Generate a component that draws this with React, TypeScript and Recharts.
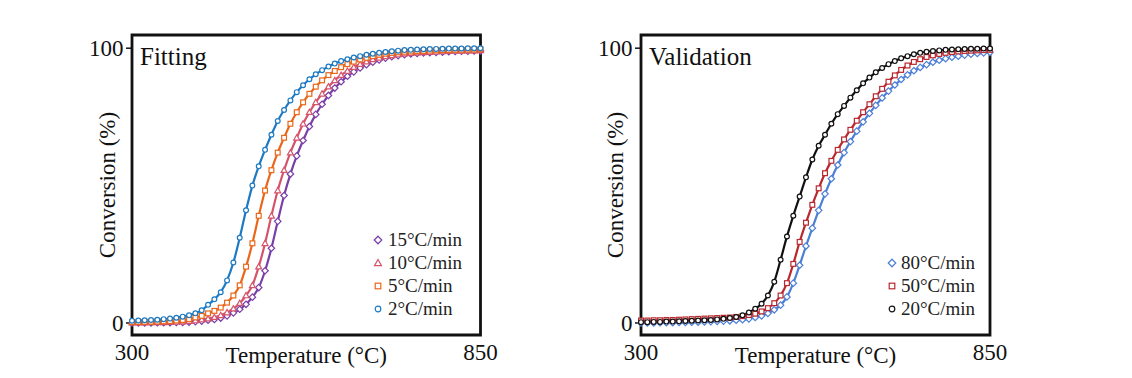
import { LineChart, Line, XAxis, YAxis, ReferenceArea, Legend } from 'recharts'

// temperature grid, °C
const temps = [
  300, 310, 320, 330, 340, 350, 360, 370, 380, 390,
  400, 410, 420, 430, 440, 450, 460, 470, 480, 490,
  500, 510, 520, 530, 540, 550, 560, 570, 580, 590,
  600, 610, 620, 630, 640, 650, 660, 670, 680, 690,
  700, 710, 720, 730, 740, 750, 760, 770, 780, 790,
  800, 810, 820, 830, 840, 850,
]

// Fitting panel, conversion %
const rate15 = [
  0, 0, 0, 0, 0.1, 0.1, 0.1, 0.2, 0.2, 0.3,
  0.5, 0.7, 1.0, 1.3, 1.8, 2.6, 3.7, 5.0, 6.8, 9.4,
  12.9, 19, 27.2, 37, 46.4, 54.2, 60.8, 66.4, 71.5, 75.9,
  79.6, 82.8, 85.5, 87.8, 89.8, 91.4, 92.8, 94, 94.9, 95.7,
  96.4, 96.9, 97.3, 97.6, 97.9, 98.1, 98.3, 98.4, 98.5, 98.6,
  98.7, 98.8, 98.9, 98.9, 99, 99,
]
const rate10 = [
  0.1, 0.1, 0.1, 0.2, 0.2, 0.2, 0.3, 0.4, 0.5, 0.7,
  0.9, 1.2, 1.6, 2.1, 2.8, 3.8, 5.2, 7.2, 10, 13.7,
  20.5, 29, 39, 48.2, 55.6, 62, 67.4, 72.5, 76.7, 80.3,
  83.4, 86, 88.3, 90.2, 91.7, 93.1, 94.2, 95.1, 95.9, 96.5,
  97, 97.4, 97.7, 98, 98.2, 98.4, 98.5, 98.6, 98.7, 98.8,
  98.9, 99, 99, 99.1, 99.1, 99.2,
]
const rate5 = [
  0.3, 0.35, 0.4, 0.45, 0.5, 0.6, 0.7, 0.9, 1.1, 1.4,
  2.0, 2.6, 3.5, 4.4, 5.6, 7.4, 10, 13.7, 20.5, 29,
  39, 48.2, 55.6, 62, 67.4, 72.5, 76.7, 80.3, 83.4, 86,
  88.3, 90.2, 91.7, 93.1, 94.2, 95.1, 95.9, 96.5, 97.1, 97.6,
  98, 98.3, 98.5, 98.7, 98.8, 98.9, 99, 99.1, 99.2, 99.3,
  99.3, 99.4, 99.4, 99.5, 99.5, 99.6,
]
const rate2 = [
  0.8, 0.9, 1.0, 1.1, 1.2, 1.4, 1.6, 1.9, 2.3, 2.8,
  3.5, 4.6, 6.6, 8.6, 11.2, 15.5, 22, 31, 41, 50,
  57, 63, 68.5, 73.5, 77.5, 81, 84, 86.5, 88.7, 90.5,
  92, 93.3, 94.4, 95.3, 96, 96.6, 97.1, 97.6, 98, 98.3,
  98.6, 98.9, 99.1, 99.3, 99.4, 99.5, 99.6, 99.7, 99.75, 99.8,
  99.85, 99.9, 99.9, 99.95, 100, 100,
]

// Validation panel, conversion %
const rate80 = [
  0, 0, 0, 0.1, 0.1, 0.1, 0.2, 0.2, 0.3, 0.3,
  0.4, 0.5, 0.6, 0.7, 0.8, 1.0, 1.2, 1.5, 2.0, 2.6,
  3.5, 4.8, 6.5, 9.5, 14.5, 21, 28, 34.5, 41, 47,
  52.5, 57.5, 62, 66, 69.8, 73.2, 76.3, 79.2, 81.9, 84.4,
  86.6, 88.6, 90.3, 91.8, 93, 94, 94.9, 95.6, 96.2, 96.7,
  97.1, 97.5, 97.8, 98.1, 98.3, 98.5,
]
const rate50 = [
  0.9, 0.9, 1.0, 1.0, 1.1, 1.1, 1.2, 1.3, 1.4, 1.5,
  1.6, 1.7, 1.8, 1.9, 2.0, 2.2, 2.5, 2.9, 3.4, 4.2,
  5.4, 7.2, 10, 14.5, 21.5, 29.5, 36.5, 43, 49, 54.5,
  59, 63, 66.8, 70.3, 73.6, 76.7, 79.6, 82.5, 85.2, 87.8,
  90.1, 92.1, 93.7, 95.0, 96.0, 96.8, 97.4, 97.9, 98.3, 98.6,
  98.8, 99, 99.1, 99.2, 99.3, 99.4,
]
const rate20 = [
  0.3, 0.3, 0.4, 0.4, 0.5, 0.5, 0.6, 0.7, 0.8, 0.9,
  1.0, 1.1, 1.3, 1.5, 1.8, 2.2, 2.8, 3.8, 5.2, 7.0,
  10, 15, 23, 31.5, 39, 46, 53, 59.5, 64.5, 68.5,
  72.5, 76, 79, 82, 84.7, 87.2, 89.3, 91.2, 92.8, 94.2,
  95.3, 96.3, 97.1, 97.8, 98.3, 98.7, 99, 99.2, 99.4, 99.5,
  99.6, 99.7, 99.8, 99.8, 99.9, 99.9,
]

const xTicks = [300, 850]
const yTicks = [0, 100]

type Shape = 'circle' | 'square' | 'diamond' | 'triangle'
type Series = { key: string; name: string; values: number[]; color: string; shape: Shape }

const fittingSeries: Series[] = [
  { key: 'r15', name: '15°C/min', values: rate15, color: '#7a3fa6', shape: 'diamond' },
  { key: 'r10', name: '10°C/min', values: rate10, color: '#d6546b', shape: 'triangle' },
  { key: 'r5', name: '5°C/min', values: rate5, color: '#e9671a', shape: 'square' },
  { key: 'r2', name: '2°C/min', values: rate2, color: '#1d7ac2', shape: 'circle' },
]
const validationSeries: Series[] = [
  { key: 'r80', name: '80°C/min', values: rate80, color: '#4c7fd6', shape: 'diamond' },
  { key: 'r50', name: '50°C/min', values: rate50, color: '#b8282e', shape: 'square' },
  { key: 'r20', name: '20°C/min', values: rate20, color: '#111111', shape: 'circle' },
]

const FONT = '"Liberation Serif", "Times New Roman", serif'
const Y_MIN = -4.37
const Y_MAX = 104.8

function Marker({ shape, x, y, r, color }: { shape: Shape; x: number; y: number; r: number; color: string }) {
  const common = { fill: '#fff', stroke: color, strokeWidth: 1.2 }
  if (shape === 'circle') return <circle cx={x} cy={y} r={r} {...common} />
  if (shape === 'square') return <rect x={x - r} y={y - r} width={r * 2} height={r * 2} {...common} />
  if (shape === 'diamond') {
    const d = r * 1.35
    return <polygon points={`${x},${y - d} ${x + d},${y} ${x},${y + d} ${x - d},${y}`} {...common} />
  }
  const t = r * 1.25
  return <polygon points={`${x},${y - t} ${x + t},${y + t * 0.75} ${x - t},${y + t * 0.75}`} {...common} />
}

type PanelProps = {
  title: string
  series: Series[]
  left: number
  margin: { top: number; right: number; bottom: number; left: number }
  yLabelDx: number
  legendLeft: number
  legendTop: number
  legendGap: number
}

function Panel({ title, series, left, margin, yLabelDx, legendLeft, legendTop, legendGap }: PanelProps) {
  const data = temps.map((t, i) => {
    const row: Record<string, number> = { t }
    series.forEach((s) => { row[s.key] = s.values[i] })
    return row
  })
  return (
    <div style={{ position: 'absolute', left, top: 0 }}>
      <LineChart width={566} height={378} data={data} margin={margin}>
        <XAxis
          type="number" dataKey="t" domain={[300, 850]} ticks={xTicks} interval={0}
          height={43} axisLine={false} tickLine={false} tickSize={6} tickMargin={3}
          tick={{ fontSize: 23, fill: '#111', fontFamily: FONT }}
          label={{ value: 'Temperature (°C)', position: 'center', dy: -1.5, fontSize: 23, fill: '#111', fontFamily: FONT }}
        />
        <YAxis
          type="number" domain={[Y_MIN, Y_MAX]} ticks={yTicks} allowDataOverflow interval={0}
          width={60} axisLine={false} tickLine={{ stroke: '#111', strokeWidth: 1.5 }} tickSize={6} tickMargin={2.5}
          tick={{ fontSize: 23, fill: '#111', fontFamily: FONT }}
          label={{ value: 'Conversion (%)', angle: -90, position: 'center', dx: yLabelDx, fontSize: 23, fill: '#111', fontFamily: FONT }}
        />
        {series.map((s) => (
          <Line
            key={s.key}
            type="monotone"
            dataKey={s.key}
            name={s.name}
            stroke={s.color}
            strokeWidth={2.2}
            isAnimationActive={false}
            activeDot={false}
            dot={(p: any) => (
              <Marker key={`${s.key}-${p.index}`} shape={s.shape} x={p.cx} y={p.cy} r={2.4} color={s.color} />
            )}
          />
        ))}
        <ReferenceArea
          x1={300} x2={850} y1={Y_MIN} y2={Y_MAX} ifOverflow="visible"
          fill="none" stroke="#111" strokeWidth={2.8}
          label={{ value: title, position: 'insideTopLeft', offset: 8, dy: 4, fontSize: 25, fill: '#111', fontFamily: FONT }}
        />
        <Legend
          layout="vertical" align="center" verticalAlign="middle"
          wrapperStyle={{ left: legendLeft, top: legendTop, width: 'auto' }}
          content={() => (
            <div style={{ fontFamily: FONT, fontSize: 19, color: '#222' }}>
              {series.map((s) => (
                <div key={s.key} style={{ display: 'flex', alignItems: 'center', height: 23, whiteSpace: 'nowrap' }}>
                  <svg width={10} height={10} style={{ marginRight: legendGap }}>
                    <Marker shape={s.shape} x={5} y={5} r={2.8} color={s.color} />
                  </svg>
                  <span>{s.name}</span>
                </div>
              ))}
            </div>
          )}
        />
      </LineChart>
    </div>
  )
}

export default function App() {
  return (
    <div style={{ position: 'absolute', left: 0, top: 0, width: 1132, height: 378, background: '#fff', overflow: 'hidden' }}>
      <Panel
        title="Fitting" series={fittingSeries} left={0}
        margin={{ top: 35, right: 85.5, bottom: 0, left: 72 }}
        yLabelDx={4.7} legendLeft={373} legendTop={228.5} legendGap={5}
      />
      <Panel
        title="Validation" series={validationSeries} left={566}
        margin={{ top: 35, right: 142, bottom: 0, left: 15 }}
        yLabelDx={4} legendLeft={321} legendTop={251.8} legendGap={4}
      />
    </div>
  )
}
